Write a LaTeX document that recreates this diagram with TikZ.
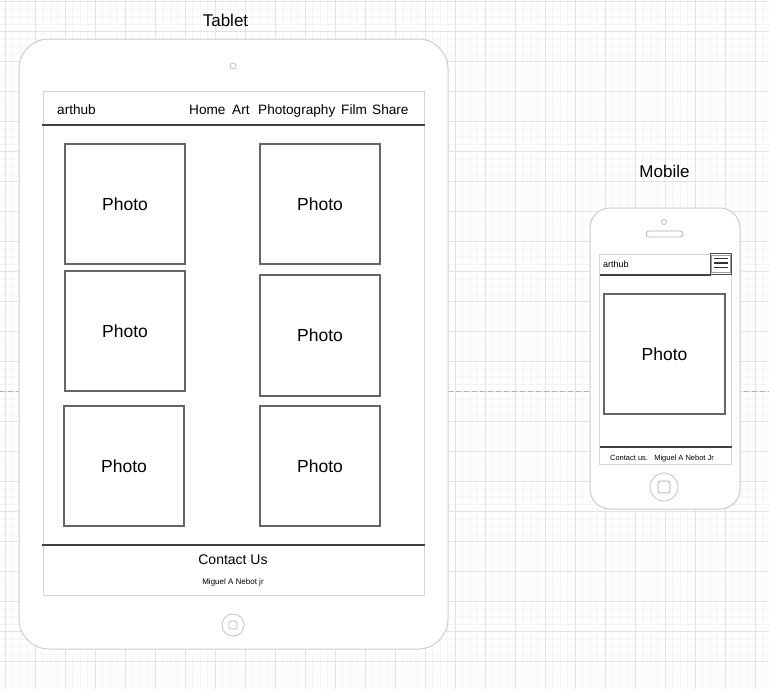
\documentclass[tikz,border=0pt]{standalone}
\usepackage{fontspec}
\setmainfont{Liberation Sans}
\begin{document}
\begin{tikzpicture}[x=1pt,y=-1pt,
  minorgrid/.style={draw=black!4,line width=0.6pt},
  majorgrid/.style={draw=black!11,line width=0.8pt},
  device/.style={draw=black!20,line width=1pt,fill=white},
  screen/.style={draw=black!17,line width=1pt},
  barline/.style={draw=black!75,line width=1.8pt},
  photo/.style={draw=black!60,line width=1.2pt,fill=white,minimum width=120pt,minimum height=120pt,inner sep=0pt,font=\fontsize{17.5}{20}\selectfont},
  mphoto/.style={photo,minimum width=121pt,minimum height=120pt},
  title/.style={font=\fontsize{17}{20}\selectfont,inner sep=0pt},
  navtext/.style={font=\fontsize{13.6}{16}\selectfont,inner sep=0pt,anchor=base west},
  knob/.style={draw=black!22,line width=0.9pt,fill=white}
]
\useasboundingbox (0,0) rectangle (769,689);
\fill[white] (0,0) rectangle (769,689);
% paper grid
\foreach \i in {0,...,103} {\draw[minorgrid] (-2.5+7.5*\i,0) -- (-2.5+7.5*\i,689);}
\foreach \j in {0,...,92} {\draw[minorgrid] (0,1.7+7.5*\j) -- (769,1.7+7.5*\j);}
\foreach \i in {0,...,25} {\draw[majorgrid] (5+30*\i,0) -- (5+30*\i,689);}
\foreach \j in {0,...,22} {\draw[majorgrid] (0,1.7+30*\j) -- (769,1.7+30*\j);}
% fold guide
\draw[black!30,line width=0.9pt,dash pattern=on 5pt off 3pt] (0,391) -- (769,391);

% ---------- tablet ----------
\node[title] (tabtitle) at (225.5,20) {Tablet};
\draw[device,rounded corners=30pt] (19,39) rectangle (448,649);
\node[circle,draw=black!30,line width=0.6pt,minimum size=6pt,inner sep=0pt] (tabcam) at (233,66) {};
\draw[screen] (43,91) rectangle (424,595);
\draw[barline] (42,125) -- (425,125);
\draw[barline] (42,545) -- (425,545);
\node[navtext] (tablogo) at (57,114.3) {arthub};
\node[navtext] (navhome) at (189,114.3) {Home};
\node[navtext] (navart) at (232,114.3) {Art};
\node[navtext] (navphoto) at (258,114.3) {Photography};
\node[navtext] (navfilm) at (341,114.3) {Film};
\node[navtext] (navshare) at (372,114.3) {Share};

\node[photo] (p1) at (125,204) {Photo};
\node[photo] (p2) at (320,204) {Photo};
\node[photo] (p3) at (125,331) {Photo};
\node[photo,minimum height=121pt] (p4) at (320,335.5) {Photo};
\node[photo] (p5) at (124,466) {Photo};
\node[photo] (p6) at (320,466) {Photo};

\node[font=\fontsize{14}{16}\selectfont,inner sep=0pt] (contact) at (233,559.5) {Contact Us};
\node[font=\fontsize{8}{10}\selectfont,inner sep=0pt] (author) at (233,582) {Miguel A Nebot jr};

\node[knob,circle,minimum size=22pt,inner sep=0pt] (tabhome) at (233,625) {};
\draw[black!30,line width=0.7pt,rounded corners=1.5pt] (229,621) rectangle (237,629);

% ---------- mobile ----------
\node[title] (mobtitle) at (664.5,171) {Mobile};
\draw[device,rounded corners=20pt] (590,208) rectangle (740,509);
\node[circle,draw=black!35,line width=0.6pt,minimum size=5pt,inner sep=0pt] (mobcam) at (664,222) {};
\draw[black!30,line width=0.8pt,rounded corners=3pt] (646,231) rectangle (683,237);
\draw[screen] (599,254) rectangle (731,464);
\draw[barline] (600,275) -- (711,275);
\node[font=\fontsize{9}{11}\selectfont,inner sep=0pt,anchor=west] (moblogo) at (603,264) {arthub};
\node[draw=black!70,line width=1.2pt,fill=white,minimum size=21pt,inner sep=0pt] (menu) at (721,264) {};
\draw[black!40,line width=1pt] (711.8,255.8) rectangle (730.2,272.2);
\draw[black!80,line width=1.2pt] (714,258.5) -- (728,258.5) (714,263) -- (728,263) (714,267.5) -- (728,267.5);
\node[mphoto] (mphoto) at (664.5,354) {Photo};
\draw[barline,line width=1.5pt] (600,447) -- (732,447);
\node[font=\fontsize{7.5}{9}\selectfont,inner sep=0pt] (mobfoot) at (662,459) {Contact us.\ \ \ Miguel A Nebot Jr};
\node[knob,circle,minimum size=28pt,inner sep=0pt] (mobhome) at (664,487) {};
\draw[black!35,line width=0.7pt,rounded corners=2.5pt] (658,481) rectangle (670,493);
\end{tikzpicture}
\end{document}
